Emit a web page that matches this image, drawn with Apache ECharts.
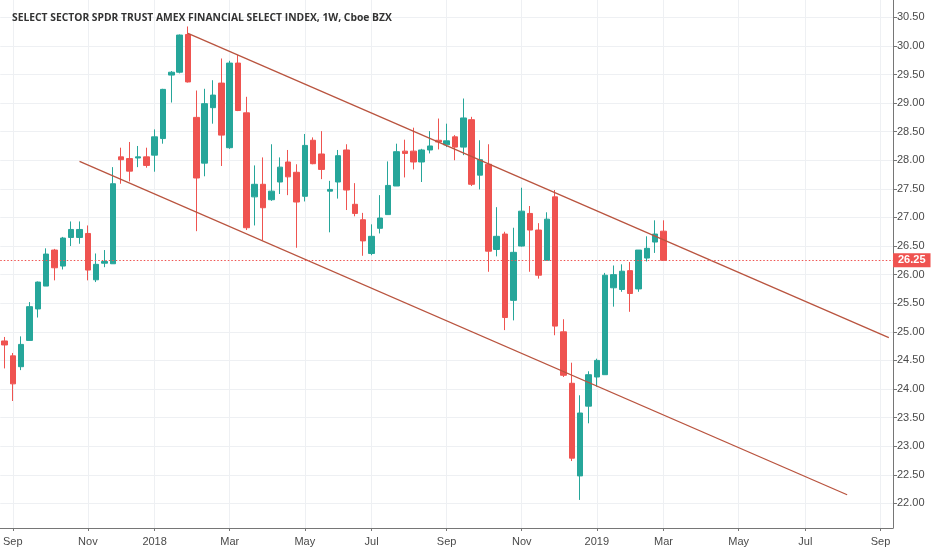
<!DOCTYPE html>
<html>
<head>
<meta charset="utf-8">
<script src="https://cdn.jsdelivr.net/npm/echarts@6/dist/echarts.min.js"></script>
<style>
html,body{margin:0;padding:0;background:#fff;}
#chart{width:932px;height:550px;}
</style>
</head>
<body>
<div id="chart"></div>
<script>
// ---- data (weekly bars, first bar = week of 2017-08-28) ----
const firstWeek = '2017-08-28';
const weekCount = 107; // bars + empty future weeks on the axis
const opens  = [24.84,24.58,24.39,24.85,25.40,25.80,26.43,26.15,26.65,26.65,26.72,25.91,26.20,26.19,28.06,28.03,28.04,28.06,
                28.09,28.38,29.49,29.54,30.20,28.75,27.95,28.92,29.35,28.22,29.70,28.83,27.36,27.58,27.31,27.62,27.97,27.79,
                27.37,28.35,28.11,27.46,27.62,28.18,27.23,26.96,26.37,26.81,27.05,27.55,28.16,28.16,27.97,28.18,28.35,28.27,
                28.41,28.23,28.71,27.74,27.93,26.44,26.71,25.55,26.50,27.07,26.78,26.25,27.36,25.00,24.10,22.48,23.70,24.21,
                24.25,25.77,25.74,26.07,25.75,26.29,26.57,26.76];
const closes = [24.77,24.09,24.78,25.44,25.87,26.36,26.12,26.64,26.79,26.79,26.08,26.18,26.23,27.59,28.01,27.81,28.06,27.91,
                28.41,29.24,29.54,30.19,29.37,27.69,28.99,29.14,28.44,29.70,28.87,26.82,27.58,27.17,27.46,27.88,27.71,27.27,
                28.26,27.94,27.84,27.49,28.08,27.48,27.07,26.59,26.67,26.99,27.56,28.15,28.12,27.97,28.18,28.25,28.32,28.34,
                28.23,28.74,27.58,28.01,26.41,26.67,25.25,26.39,27.11,26.78,25.99,26.97,25.10,24.24,22.79,23.58,24.25,24.50,
                25.99,26.00,26.06,25.67,26.43,26.46,26.71,26.25];
const lows   = [24.36,23.79,24.33,24.85,25.25,25.80,25.90,26.09,26.50,26.54,25.90,25.87,26.13,26.19,27.59,27.63,27.88,27.87,
                27.80,28.29,29.01,29.52,29.36,26.76,27.72,28.64,27.90,28.20,28.86,26.78,26.86,26.60,27.29,27.41,27.39,26.47,
                27.28,27.93,27.67,26.74,27.33,27.13,27.02,26.33,26.34,26.72,27.05,27.55,27.70,27.84,27.62,28.12,28.19,28.23,
                28.00,28.09,27.55,27.49,26.05,26.32,25.03,25.20,26.49,26.05,25.93,26.25,24.94,24.21,22.74,22.06,23.40,24.04,
                24.25,25.44,25.70,25.35,25.70,26.23,26.38,26.25];
const highs  = [24.91,24.63,24.92,25.52,25.88,26.46,26.45,26.66,26.93,26.93,26.86,26.37,26.43,27.88,28.22,28.32,28.25,28.22,
                28.54,29.25,29.56,30.20,30.34,29.22,29.25,29.40,29.78,29.74,29.84,29.11,27.91,28.05,28.28,28.05,28.18,27.93,
                28.46,28.40,28.51,27.64,28.18,28.28,27.60,27.08,26.88,27.39,27.98,28.29,28.36,28.57,28.20,28.51,28.73,28.64,
                28.44,29.08,28.76,28.35,28.28,27.18,26.75,26.82,27.52,27.20,26.90,27.09,27.48,25.22,24.46,23.89,24.31,24.53,
                26.03,26.16,26.18,26.22,26.43,26.67,26.95,26.95];
const lastPrice = 26.25;
// channel lines: [week, price]
const upperChannel = [['2018-01-29', 30.22], ['2019-09-09', 24.90]];
const lowerChannel = [['2017-10-30', 27.98], ['2019-08-05', 22.15]];
// x tick labels
const tickWeeks  = ['2017-09-04','2017-11-06','2018-01-01','2018-03-05','2018-05-07','2018-07-02','2018-09-03',
                    '2018-11-05','2019-01-07','2019-03-04','2019-05-06','2019-07-01','2019-09-02'];
const tickLabels = ['Sep','Nov','2018','Mar','May','Jul','Sep','Nov','2019','Mar','May','Jul','Sep'];
const titleText = 'SELECT SECTOR SPDR TRUST AMEX FINANCIAL SELECT INDEX, 1W, Cboe BZX';

// ---- build axis categories (one per week) ----
function pad(n){return (n<10?'0':'')+n;}
const weeks = [];
{
  const p = firstWeek.split('-').map(Number);
  for (let i = 0; i < weekCount; i++) {
    const d = new Date(Date.UTC(p[0], p[1]-1, p[2] + 7*i));
    weeks.push(d.getUTCFullYear()+'-'+pad(d.getUTCMonth()+1)+'-'+pad(d.getUTCDate()));
  }
}
const tickMap = {};
tickWeeks.forEach((w,i)=>{tickMap[w]=tickLabels[i];});
const isTick = (idx, val) => tickMap.hasOwnProperty(weeks[idx]);

const candles = opens.map((o,i)=>[o, closes[i], lows[i], highs[i]]);

const UP = '#26a69a', DOWN = '#ef5350', LINE = '#b9543f';
const GRID = '#eef0f3', AXIS = '#767676', TXT = '#4a4a4a';
const FONT = 'Liberation Sans, Arial, sans-serif';

const chart = echarts.init(document.getElementById('chart'), null, {renderer:'canvas'});
chart.setOption({
  animation: false,
  backgroundColor: '#ffffff',
  title: {
    text: titleText, left: 7, top: 6,
    textStyle: {fontSize: 10.3, fontWeight: 'bold', color: '#333333', fontFamily: 'Open Sans, sans-serif', lineHeight: 15}
  },
  grid: {left: -1.5, right: 39, top: 0, bottom: 22, containLabel: false},
  xAxis: {
    type: 'category', data: weeks, boundaryGap: true,
    axisLine: {lineStyle: {color: AXIS, width: 1}},
    axisTick: {show: true, alignWithLabel: true, interval: isTick, length: 3, lineStyle: {color: AXIS}},
    axisLabel: {interval: isTick, formatter: v => tickMap[v] || '', color: TXT, fontSize: 11, fontFamily: FONT, margin: 8},
    splitLine: {show: true, alignWithLabel: true, interval: isTick, lineStyle: {color: GRID, width: 1}}
  },
  yAxis: {
    type: 'value', position: 'right', scale: true,
    min: 21.569, max: 30.803, splitNumber: 18,
    axisLine: {show: true, lineStyle: {color: AXIS, width: 1}},
    axisTick: {show: true, length: 4, lineStyle: {color: AXIS}},
    axisLabel: {formatter: v => v.toFixed(2), color: TXT, fontSize: 11, fontFamily: FONT, margin: 4,
                showMinLabel: false, showMaxLabel: false},
    splitLine: {show: true, showMinLine: false, showMaxLine: false, lineStyle: {color: GRID, width: 1}}
  },
  series: [
    {
      type: 'candlestick', data: candles, barWidth: 6,
      itemStyle: {color: UP, color0: DOWN, borderColor: UP, borderColor0: DOWN, borderWidth: 1},
      markLine: {
        silent: true, symbol: ['none','none'],
        data: [{yAxis: lastPrice}],
        lineStyle: {color: DOWN, type: [1.5, 2], width: 1},
        label: {position: 'end', distance: 0, formatter: lastPrice.toFixed(2), color: '#fff', fontWeight: 'bold',
                fontSize: 11, fontFamily: FONT, backgroundColor: DOWN, padding: [2, 5, 1, 5]}
      }
    },
    {type: 'line', data: upperChannel, showSymbol: false, symbol: 'none', silent: true,
     lineStyle: {color: LINE, width: 1.3}},
    {type: 'line', data: lowerChannel, showSymbol: false, symbol: 'none', silent: true,
     lineStyle: {color: LINE, width: 1.3}}
  ]
});
</script>
</body>
</html>
